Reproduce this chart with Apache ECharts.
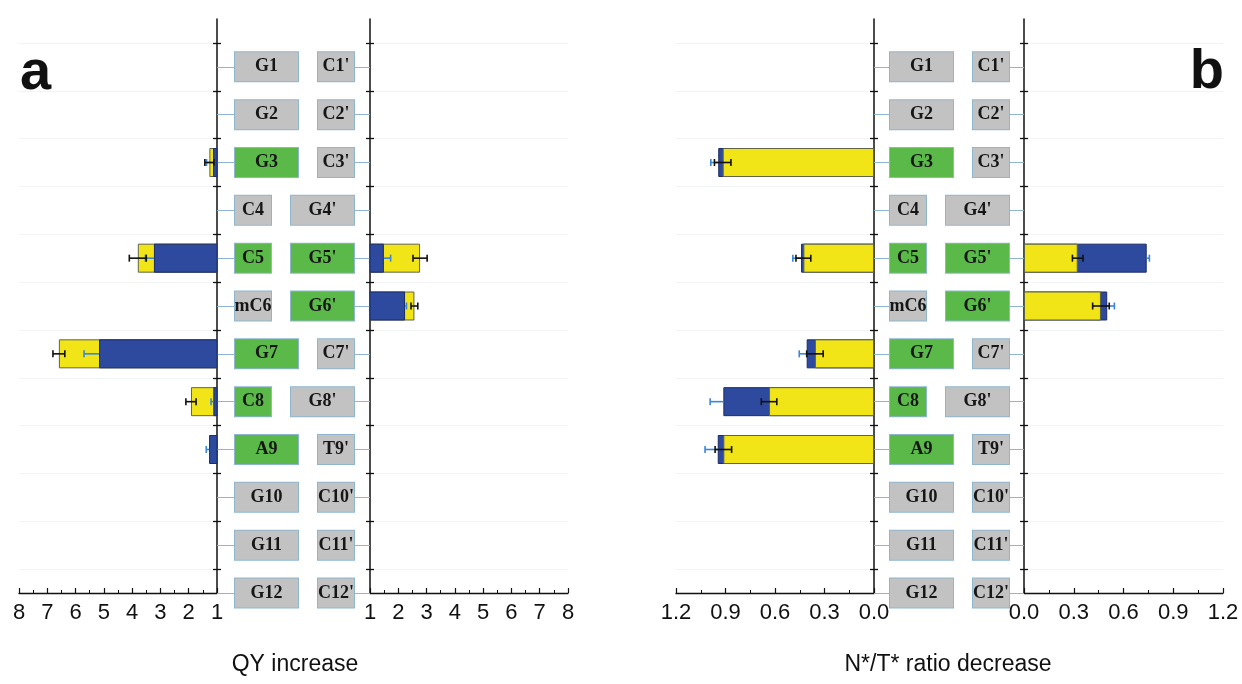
<!DOCTYPE html>
<html><head><meta charset="utf-8">
<script src="https://cdn.jsdelivr.net/npm/echarts@6/dist/echarts.min.js"></script>
<style>html,body{margin:0;padding:0;background:#fff}#c{width:1242px;height:684px}</style>
</head><body><div id="c"></div>
<script>
// ---------- data ----------
const leftLabels  = ['G1','G2','G3','C4','C5','mC6','G7','C8','A9','G10','G11','G12'];
const rightLabels = ["C1'","C2'","C3'","G4'","G5'","G6'","C7'","G8'","T9'","C10'","C11'","C12'"];
const leftGreen   = ['G3','C5','G7','C8','A9'];
const rightGreen  = ["G5'","G6'"];
const wideBases   = ['G','A'];

const qyTicks = [1,2,3,4,5,6,7,8];
const ntTicks = [0.0,0.3,0.6,0.9,1.2];

// Panel a : QY increase
const qyBlueLeft       = [null,null,1.14,null,3.23,null,5.17,1.13,1.28,null,null,null];
const qyBlueLeftErr    = [null,null,0.23,null,0.30,null,0.53,0.08,0.10,null,null,null];
const qyYellowLeft     = [null,null,1.27,null,3.80,null,6.59,1.92,null,null,null,null];
const qyYellowLeftErr  = [null,null,0.16,null,0.30,null,0.21,0.18,null,null,null,null];
const qyBlueRight      = [null,null,null,null,1.49,2.24,null,null,null,null,null,null];
const qyBlueRightErr   = [null,null,null,null,0.24,0.05,null,null,null,null,null,null];
const qyYellowRight    = [null,null,null,null,2.77,2.57,null,null,null,null,null,null];
const qyYellowRightErr = [null,null,null,null,0.25,0.12,null,null,null,null,null,null];

// Panel b : N*/T* ratio decrease
const ntBlueLeft       = [null,null,0.944,null,0.442,null,0.408,0.913,0.947,null,null,null];
const ntBlueLeftErr    = [null,null,0.045,null,0.050,null,0.045,0.080,0.077,null,null,null];
const ntYellowLeft     = [null,null,0.917,null,0.428,null,0.358,0.636,0.913,null,null,null];
const ntYellowLeftErr  = [null,null,0.050,null,0.045,null,0.050,0.047,0.050,null,null,null];
const ntBlueRight      = [null,null,null,null,0.740,0.502,null,null,null,null,null,null];
const ntBlueRightErr   = [null,null,null,null,0.016,0.043,null,null,null,null,null,null];
const ntYellowRight    = [null,null,null,null,0.324,0.464,null,null,null,null,null,null];
const ntYellowRightErr = [null,null,null,null,0.032,0.050,null,null,null,null,null,null];

// ---------- style ----------
const BLUE = '#2d4a9f', BLUE_B = '#1b2c66';
const YEL = '#f2e517', YEL_B = '#5f6448';
const GRAY = '#c2c2c2', GREEN = '#5bb94a';
const BOXB = '#8fb6cf';
const SANS = '"Liberation Sans", Arial, sans-serif';
const SERIF = '"Liberation Serif", "Times New Roman", serif';

function boxStyle(w, bg) {
  return {width: w, height: 29, lineHeight: 29, align: 'center', verticalAlign: 'middle',
    backgroundColor: bg, borderColor: BOXB, borderWidth: 1,
    fontFamily: SERIF, fontWeight: 'bold', fontSize: 18, color: '#161616'};
}
const rich = {
  wg: boxStyle(63, GRAY), wn: boxStyle(63, GREEN),
  ng: boxStyle(36, GRAY), nn: boxStyle(36, GREEN)
};
function labelFmt(greens) {
  return function (v) {
    if (!v) return '';
    const wide = v[0] !== 'm' && wideBases.indexOf(v[0]) >= 0;
    const key = (wide ? 'w' : 'n') + (greens.indexOf(v) >= 0 ? 'n' : 'g');
    return '{' + key + '|' + v + '}';
  };
}

const grids = [
  {left: 19,   right: 1242 - 217},
  {left: 370,  right: 1242 - 568},
  {left: 676,  right: 1242 - 874},
  {left: 1024, right: 1242 - 1223}
];
const panels = [
  {ticks: qyTicks, inverse: true,  side: 'right', labels: leftLabels,  greens: leftGreen,  tl: 18,
   blue: qyBlueLeft, blueErr: qyBlueLeftErr, yel: qyYellowLeft, yelErr: qyYellowLeftErr, dec: 0},
  {ticks: qyTicks, inverse: false, side: 'left',  labels: rightLabels, greens: rightGreen, tl: 16,
   blue: qyBlueRight, blueErr: qyBlueRightErr, yel: qyYellowRight, yelErr: qyYellowRightErr, dec: 0},
  {ticks: ntTicks, inverse: true,  side: 'right', labels: leftLabels,  greens: leftGreen,  tl: 16,
   blue: ntBlueLeft, blueErr: ntBlueLeftErr, yel: ntYellowLeft, yelErr: ntYellowLeftErr, dec: 1},
  {ticks: ntTicks, inverse: false, side: 'left',  labels: rightLabels, greens: rightGreen, tl: 15,
   blue: ntBlueRight, blueErr: ntBlueRightErr, yel: ntYellowRight, yelErr: ntYellowRightErr, dec: 1}
];

const option = {
  animation: false,
  backgroundColor: '#fff',
  grid: grids.map(g => ({left: g.left, right: g.right, top: 19, bottom: 91, containLabel: false})),
  xAxis: [], yAxis: [], series: [],
  graphic: [
    {type: 'text', left: 20, top: 46, style: {text: 'a', font: 'bold 56px ' + SANS, fill: '#111'}},
    {type: 'text', right: 18, top: 45, style: {text: 'b', font: 'bold 56px ' + SANS, fill: '#111'}},
    {type: 'text', x: 295, y: 665, style: {text: 'QY increase', font: '23px ' + SANS, fill: '#111', align: 'center', verticalAlign: 'middle'}},
    {type: 'text', x: 948, y: 665, style: {text: 'N*/T* ratio decrease', font: '23px ' + SANS, fill: '#111', align: 'center', verticalAlign: 'middle'}}
  ]
};

function item(v, c, b) { return v == null ? null : {value: v, itemStyle: {color: c, borderColor: b}}; }

panels.forEach((p, g) => {
  const t = p.ticks;
  option.xAxis.push({
    type: 'value', gridIndex: g, min: t[0], max: t[t.length - 1], interval: t[1] - t[0],
    inverse: p.inverse, position: 'bottom',
    axisLine: {show: true, lineStyle: {color: '#111', width: 1.3}},
    axisTick: {show: true, inside: true, length: 5, lineStyle: {color: '#111', width: 1.2}},
    minorTick: {show: true, splitNumber: 2, length: 3, lineStyle: {color: '#111', width: 1}},
    splitLine: {show: false},
    axisLabel: {show: true, margin: 9, fontSize: 22, fontFamily: SANS, color: '#111',
      showMinLabel: true, showMaxLabel: true,
      formatter: v => Number(v).toFixed(p.dec)}
  });
  // category axis: label boxes and light-blue connectors
  option.yAxis.push({
    type: 'category', gridIndex: g, data: [''].concat(p.labels), inverse: true, boundaryGap: false,
    position: p.side,
    axisLine: {show: false},
    axisTick: {show: true, length: p.tl, interval: (i) => i > 0, lineStyle: {color: BOXB, width: 1}},
    axisLabel: {show: true, interval: 0, margin: p.tl, formatter: labelFmt(p.greens), rich: rich},
    splitLine: {show: false}
  });
  // value axis: black axis line, outer boundary ticks, faint grid lines
  option.yAxis.push({
    type: 'value', gridIndex: g, min: 0, max: 12, interval: 1, position: p.side,
    axisLine: {show: true, lineStyle: {color: '#111', width: 1.5}},
    axisTick: {show: false},
    minorTick: {show: true, splitNumber: 2, length: 4, lineStyle: {color: '#111', width: 1.3}},
    axisLabel: {show: false},
    splitLine: {show: false},
    minorSplitLine: {show: true, lineStyle: {color: '#f1f3f7', width: 1}}
  });
  // value axis: inner half of boundary ticks
  option.yAxis.push({
    type: 'value', gridIndex: g, min: 0, max: 12, interval: 1, position: p.side,
    axisLine: {show: false},
    axisTick: {show: false, inside: true},
    minorTick: {show: true, splitNumber: 2, length: 4, lineStyle: {color: '#111', width: 1.3}},
    axisLabel: {show: false},
    splitLine: {show: false}
  });

  const back = [null], front = [null], errs = [];
  p.labels.forEach((lab, i) => {
    const b = p.blue[i], y = p.yel[i];
    const bi = item(b, BLUE, BLUE_B), yi = item(y, YEL, YEL_B);
    if (b == null) { back.push(yi); front.push(null); }
    else if (y == null) { back.push(bi); front.push(null); }
    else if (b >= y) { back.push(bi); front.push(yi); }
    else { back.push(yi); front.push(bi); }
    if (b != null && p.blueErr[i] != null) errs.push([i + 1, b, p.blueErr[i], 0]);
    if (y != null && p.yelErr[i] != null) errs.push([i + 1, y, p.yelErr[i], 1]);
  });
  const catIdx = 3 * g;
  const common = {type: 'bar', xAxisIndex: g, yAxisIndex: catIdx, barWidth: 29, barGap: '-100%',
    clip: true, itemStyle: {borderWidth: 1}};
  option.series.push(Object.assign({}, common, {name: 'back' + g, data: back, z: 2}));
  option.series.push(Object.assign({}, common, {name: 'front' + g, data: front, z: 3}));
  option.series.push({
    type: 'custom', xAxisIndex: g, yAxisIndex: catIdx, z: 5, clip: false,
    encode: {x: 1, y: 0}, data: errs,
    renderItem: function (params, api) {
      const yi = api.value(0), c = api.value(1), e = api.value(2), k = api.value(3);
      const p1 = api.coord([k ? c - e : c, yi]), p2 = api.coord([c + e, yi]);
      const col = k ? '#111' : '#3a86d8';
      const st = {stroke: col, lineWidth: 1.6};
      const h = 3.5;
      const kids = [
        {type: 'line', shape: {x1: p1[0], y1: p1[1], x2: p2[0], y2: p2[1]}, style: st},
        {type: 'line', shape: {x1: p2[0], y1: p2[1] - h, x2: p2[0], y2: p2[1] + h}, style: st}
      ];
      if (k) kids.push({type: 'line', shape: {x1: p1[0], y1: p1[1] - h, x2: p1[0], y2: p1[1] + h}, style: st});
      return {type: 'group', children: kids};
    }
  });
});
// fix yAxis indices: each grid has 3 y axes (category, outer-tick value, inner-tick value)

const chart = echarts.init(document.getElementById('c'), null, {renderer: 'canvas'});
chart.setOption(option);
</script></body></html>
